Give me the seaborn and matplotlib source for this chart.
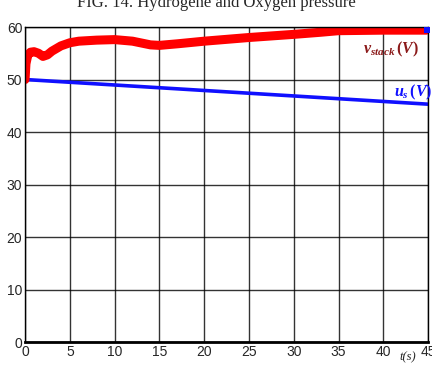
import pandas as pd
import seaborn as sns
import matplotlib.pyplot as plt

t_stack = [0, 0.1, 0.3, 0.6, 1.0, 1.5, 2.0, 2.5, 3, 4, 5, 6, 8, 10, 12, 14, 15,
           17, 20, 25, 30, 33, 35, 40, 44.8]
v_stack = [50, 53, 54.6, 55.2, 55.3, 55.0, 54.4, 54.7, 55.4, 56.4, 57.0, 57.3,
           57.5, 57.6, 57.3, 56.6, 56.5, 56.8, 57.3, 58.0, 58.6, 59.0, 59.3,
           59.4, 59.4]
t_us = [0, 45]
u_s = [50, 45.3]
t_end = [44.9]
v_end = [59.5]

xticks = [0, 5, 10, 15, 20, 25, 30, 35, 40, 45]
yticks = [0, 10, 20, 30, 40, 50, 60]

sns.set_style("white")
plt.rcParams['font.family'] = ['Liberation Sans', 'DejaVu Sans']
plt.rcParams['mathtext.fontset'] = 'custom'
plt.rcParams['mathtext.it'] = 'Liberation Serif:italic:bold'
plt.rcParams['mathtext.rm'] = 'Liberation Serif:bold'

fig = plt.figure(figsize=(4.32, 3.65), dpi=100)
ax = fig.add_axes([0.058, 0.063, 0.933, 0.863])

df_s = pd.DataFrame({"t": t_stack, "v": v_stack})
df_u = pd.DataFrame({"t": t_us, "v": u_s})
sns.lineplot(data=df_u, x="t", y="v", color="#1010ff", linewidth=2.6, ax=ax)
sns.lineplot(data=df_s, x="t", y="v", color="#ff0000", linewidth=6.5, ax=ax)
sns.scatterplot(x=t_end, y=v_end, color="#1010ff", marker="s", s=14,
                linewidth=0, ax=ax, zorder=5, clip_on=False)

ax.set_xlim(0, 45)
ax.set_ylim(0, 60)
ax.set_xticks(xticks)
ax.set_yticks(yticks)
ax.set_xticklabels([str(x) for x in xticks])
ax.grid(True, color="black", linewidth=1.0, alpha=0.8)
ax.tick_params(axis="both", labelsize=10, length=0, pad=2)
ax.set_xlabel("")
ax.set_ylabel("")
for s in ax.spines.values():
    s.set_color("black")
    s.set_linewidth(1.0)
ax.spines["bottom"].set_linewidth(2)

ax.text(40.8, 55.8, r"$v_{stack}\,(V)$", color="#8b1a1a", fontsize=11.5,
        ha="center", va="center")
ax.text(43.3, 47.6, r"$u_{s}\,(V)$", color="#1010ff", fontsize=11.5,
        ha="center", va="center")
fig.text(0.945, 0.022, "t(s)", family="Liberation Serif", style="italic",
         fontsize=9, ha="center", va="center")
fig.text(0.5, 0.992, "FIG. 14. Hydrogene and Oxygen pressure",
         family="Liberation Serif", fontsize=12, ha="center", va="center")

fig.savefig("out.png", dpi=100)
